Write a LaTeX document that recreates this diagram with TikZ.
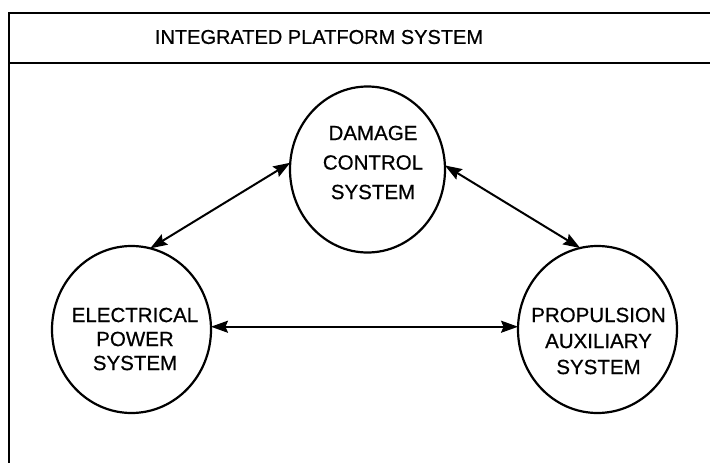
\documentclass[tikz,border=0pt]{standalone}
\usepackage{fontspec}
\setmainfont{Liberation Sans}[FakeBold=0.6]
\usetikzlibrary{arrows.meta,shapes.geometric}
\begin{document}
\begin{tikzpicture}[x=1pt,y=-1pt,
  sysbox/.style={ellipse,draw,line width=2.2pt,inner sep=0pt,outer sep=0pt},
  systext/.style={align=center,inner sep=0pt,font=\fontsize{20.5}{#1}\selectfont},
  link/.style={line width=2pt,{Stealth[length=17pt,width=12pt,inset=2.5pt]}-{Stealth[length=17pt,width=12pt,inset=2.5pt]}},
  frame/.style={line width=1.8pt}]
\useasboundingbox (0,0) rectangle (710,463);
% frame
\coordinate (tl) at (9,13);
\coordinate (tr) at (710,13);
\coordinate (bl) at (9,463);
\coordinate (hl) at (9,63);
\coordinate (hr) at (710,63);
\draw[frame] (tr) -- (tl) -- (bl);
\draw[frame] (hl) -- (hr);
\node[font=\fontsize{20}{24}\selectfont,inner sep=0pt] (title) at (319,37) {INTEGRATED PLATFORM SYSTEM};
% systems
\node[sysbox,minimum width=155pt,minimum height=166pt] (dmg) at (367.5,169.5) {};
\node[sysbox,minimum width=159pt,minimum height=167pt] (elec) at (131.5,329.5) {};
\node[sysbox,minimum width=159pt,minimum height=167pt] (prop) at (597.5,329.5) {};
\node[systext=29.5] (dmgt) at (373,162.5) {DAMAGE\\CONTROL\\SYSTEM};
\node[systext=24] (elect) at (135,339) {ELECTRICAL\\POWER\\SYSTEM};
\node[systext=26] (propt) at (598.5,341) {PROPULSION\\AUXILIARY\\SYSTEM};
% links
\draw[link] (dmg.175) -- (elec.77);
\draw[link] (dmg.3) -- (prop.102);
\draw[link] (elec.2) -- (prop.178);
\end{tikzpicture}
\end{document}
